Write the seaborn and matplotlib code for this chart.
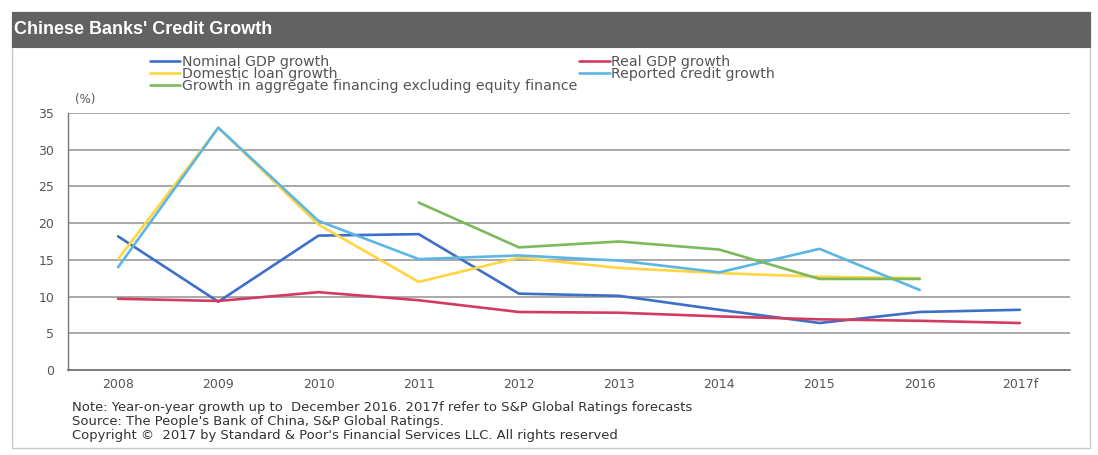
import matplotlib
matplotlib.use("Agg")
import matplotlib.pyplot as plt
from matplotlib.patches import Rectangle
import seaborn as sns
import pandas as pd
import numpy as np

years = ["2008", "2009", "2010", "2011", "2012", "2013", "2014", "2015", "2016", "2017f"]

nominal_gdp = [18.2, 9.3, 18.3, 18.5, 10.4, 10.1, 8.2, 6.4, 7.9, 8.2]
real_gdp = [9.7, 9.4, 10.6, 9.5, 7.9, 7.8, 7.3, 6.9, 6.7, 6.4]
domestic_loan = [15.1, 33.0, 19.8, 12.0, 15.3, 13.9, 13.2, 12.7, 12.5, None]
reported_credit = [14.0, 33.0, 20.3, 15.1, 15.6, 14.9, 13.3, 16.5, 10.9, None]
aggregate_ex_equity = [None, None, None, 22.8, 16.7, 17.5, 16.4, 12.4, 12.4, None]

series_names = [
    "Nominal GDP growth",
    "Real GDP growth",
    "Domestic loan growth",
    "Reported credit growth",
    "Growth in aggregate financing excluding equity finance",
]
series_values = [nominal_gdp, real_gdp, domestic_loan, reported_credit, aggregate_ex_equity]
colors = ["#3d6fc8", "#d23b5f", "#ffd540", "#5cb6e4", "#7cb95b"]

rows = []
for name, vals in zip(series_names, series_values):
    for i, v in enumerate(vals):
        if v is not None:
            rows.append({"pos": i, "value": v, "series": name})
df = pd.DataFrame(rows)

sns.set_theme(style="white")
plt.rcParams["font.family"] = ["DejaVu Sans"]

fig = plt.figure(figsize=(10.98, 4.55), dpi=100, facecolor="white")
W, H = 1098, 455

# outer frame and title band
fig.patches.append(Rectangle((12 / W, 1 - 448 / H), 1078 / W, 436 / H,
                             transform=fig.transFigure, facecolor="none",
                             edgecolor="#c8c8c8", linewidth=1.0, zorder=0))
fig.patches.append(Rectangle((12 / W, 1 - 47 / H), 1078 / W, 35 / H,
                             transform=fig.transFigure, facecolor="#626262",
                             edgecolor="#626262", linewidth=0.8, zorder=1))
fig.text(14 / W, 1 - 30 / H, "Chinese Banks' Credit Growth", color="white",
         fontsize=13, fontweight="bold", family=["Liberation Sans", "DejaVu Sans"],
         va="center", ha="left")

ax = fig.add_axes([68 / W, 1 - 370 / H, 1002 / W, 257 / H])
ax.set_zorder(3)
ax.set_facecolor("none")

sns.lineplot(data=df, x="pos", y="value", hue="series", hue_order=series_names,
             palette=colors, linewidth=1.9, ax=ax, sort=True, estimator=None)

ax.set_xlim(-0.5, len(years) - 0.5)
ax.set_ylim(0, 35)
ax.set_yticks(np.arange(0, 36, 5))
ax.set_yticklabels([str(v) for v in range(0, 36, 5)], fontsize=9, color="#555555")
ax.set_xticks(np.arange(len(years)))
ax.set_xticklabels(years, fontsize=9, color="#555555")
ax.set_xticks(np.arange(-0.5, len(years), 1.0), minor=True)
ax.tick_params(axis="x", which="major", length=0, pad=6)
ax.tick_params(axis="x", which="minor", length=4, width=1, color="#666666", direction="out")
ax.tick_params(axis="y", which="major", length=4, width=1, color="#666666", direction="out", pad=6)
ax.set_xlabel("")
ax.set_ylabel("")

for y in range(5, 36, 5):
    ax.axhline(y, color="#a8a8a8", linewidth=1.4, zorder=0)

for s in ["top", "right"]:
    ax.spines[s].set_visible(False)
ax.spines["left"].set_color("#777777")
ax.spines["left"].set_linewidth(1.0)
ax.spines["bottom"].set_color("#666666")
ax.spines["bottom"].set_linewidth(1.2)

fig.text(75 / W, 1 - 100 / H, "(%)", fontsize=8.5, color="#555555", ha="left", va="center")

# legend in two columns above the plot
handles, labels = ax.get_legend_handles_labels()
ax.get_legend().remove()
order = [0, 2, 4, 1, 3]
fig.legend([handles[i] for i in order], [labels[i] for i in order],
           loc="upper left", bbox_to_anchor=(150 / W, 1 - 55 / H), ncol=2,
           frameon=False, fontsize=10.2, labelspacing=-0.14, handlelength=2.15,
           handletextpad=0.1, columnspacing=0.15, borderaxespad=0, borderpad=0,
           labelcolor="#555555")

notes = [
    "Note: Year-on-year growth up to  December 2016. 2017f refer to S&P Global Ratings forecasts",
    "Source: The People's Bank of China, S&P Global Ratings.",
    "Copyright \u00a9  2017 by Standard & Poor's Financial Services LLC. All rights reserved",
]
for k, line in enumerate(notes):
    fig.text(72 / W, 1 - (408 + 13.5 * k) / H, line, fontsize=9.45,
             color="#333333", ha="left", va="center")

fig.savefig("out.png", dpi=100)
